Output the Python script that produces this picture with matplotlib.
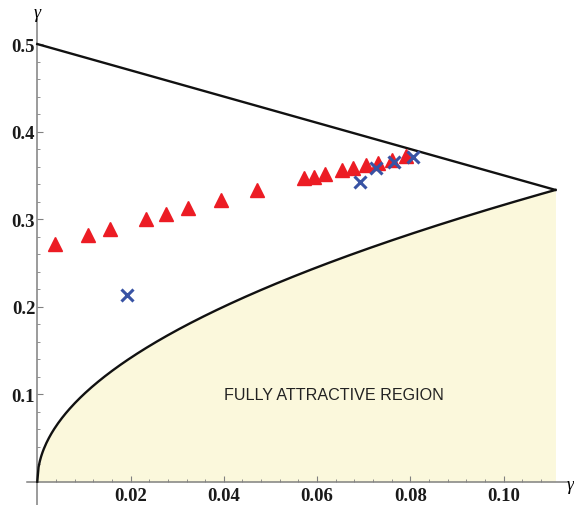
import numpy as np
import matplotlib
matplotlib.use("Agg")
import matplotlib.pyplot as plt

# --- data ---
tri_x = [0.0039, 0.0108, 0.0157, 0.0234, 0.0276, 0.0324, 0.0393, 0.0472,
         0.0573, 0.0593, 0.0618, 0.0654, 0.0678, 0.0705, 0.0731, 0.0761, 0.0791]
tri_y = [0.271, 0.2815, 0.289, 0.3004, 0.306, 0.3127, 0.322, 0.3327,
         0.3464, 0.348, 0.351, 0.3557, 0.358, 0.3618, 0.3646, 0.3678, 0.3718]

crs_x = [0.0193, 0.0693, 0.0726, 0.0764, 0.0805]
crs_y = [0.2133, 0.3427, 0.358, 0.3655, 0.3706]

# boundaries: straight line gamma = 1/2 - 3/2 x, lower curve gamma = sqrt(x)
x_end = 1 / 9
line_x = [0.0, x_end]
line_y = [0.5, 1 / 3]

xticks = [0.02, 0.04, 0.06, 0.08, 0.10]
xtick_labels = ["0.02", "0.04", "0.06", "0.08", "0.10"]
yticks = [0.1, 0.2, 0.3, 0.4, 0.5]
ytick_labels = ["0.1", "0.2", "0.3", "0.4", "0.5"]

# --- figure ---
W, H = 574, 506
fig = plt.figure(figsize=(W / 100, H / 100), dpi=100)
ax = fig.add_axes([27 / W, 0.0, (568 - 27) / W, (506 - 20) / H])
ax.set_xlim(-0.0022, 0.1138)
ax.set_ylim(-0.0266, 0.5286)

cx = np.linspace(0, x_end, 400)
cy = np.sqrt(cx)
ax.fill_between(cx, 0, cy, color="#FBF8DC", lw=0, zorder=1)
ax.plot(cx, cy, color="#111111", lw=1.7, zorder=3)
ax.plot(line_x, line_y, color="#111111", lw=1.7, zorder=3)

ax.plot(tri_x, tri_y, ls="none", marker="^", ms=9.5, color="#EC1C24",
        mec="#EC1C24", zorder=4)
ax.plot(crs_x, crs_y, ls="none", marker="x", ms=8, mew=2.2, color="#3853A4",
        zorder=5)

ax.text(0.0637, 0.100, "FULLY ATTRACTIVE REGION", ha="center", va="center",
        fontsize=11.6, family="Liberation Sans", color="#222222", zorder=6)

# axes through the origin, Mathematica style
for s in ["top", "right"]:
    ax.spines[s].set_visible(False)
ax.spines["left"].set_position(("data", 0))
ax.spines["bottom"].set_position(("data", 0))
for s in ["left", "bottom"]:
    ax.spines[s].set_color("#808080")
    ax.spines[s].set_linewidth(1.1)
    ax.spines[s].set_zorder(2)

ax.set_xticks(xticks)
ax.set_xticklabels(xtick_labels)
ax.set_yticks(yticks)
ax.set_yticklabels(ytick_labels)
ax.set_xticks(np.arange(0.004, 0.111, 0.004), minor=True)
ax.set_yticks(np.arange(0.02, 0.52, 0.02), minor=True)
ax.tick_params(which="major", direction="in", length=4, width=0.8,
               color="#808080", pad=4)
ax.tick_params(which="minor", direction="in", length=2, width=0.6,
               color="#808080")
ax.tick_params(axis="y", which="major", pad=1.5)
for lab in ax.get_xticklabels() + ax.get_yticklabels():
    lab.set_fontfamily("Liberation Serif")
    lab.set_fontweight("bold")
    lab.set_fontsize(13.5)
    lab.set_color("#1a1a1a")
ax.patch.set_visible(False)

fig.text(37 / W, 1 - 14 / H, "γ", ha="center", va="center", fontsize=13,
         family="Liberation Serif", style="italic")
fig.text(574 / W, 1 - 486 / H, "γ", ha="right", va="center", fontsize=13,
         family="Liberation Serif", style="italic")

fig.savefig("out.png", dpi=100)
